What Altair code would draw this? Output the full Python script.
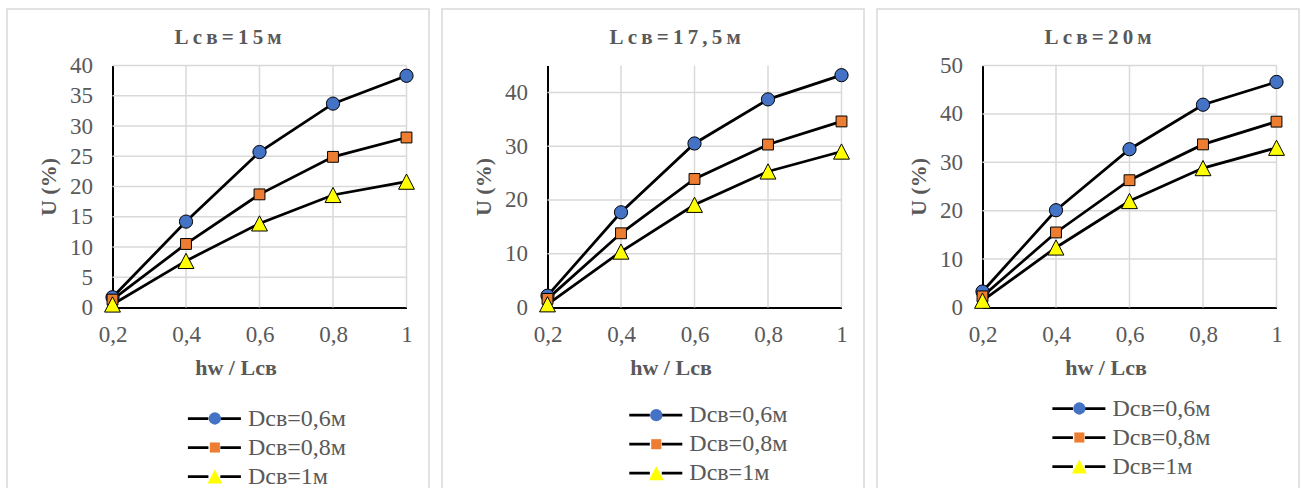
import altair as alt
import pandas as pd

# ---------------- data ----------------
X_VALUES = [0.2, 0.4, 0.6, 0.8, 1.0]
SERIES = ["Dсв=0,6м", "Dсв=0,8м", "Dсв=1м"]
TITLES = ["Lсв=15м", "Lсв=17,5м", "Lсв=20м"]
X_TITLE = "hw / Lсв"
Y_TITLE = "U (%)"

P1_D06 = [1.7, 14.2, 25.7, 33.7, 38.3]
P1_D08 = [1.3, 10.5, 18.7, 24.9, 28.1]
P1_D10 = [0.5, 7.7, 13.9, 18.6, 20.8]

P2_D06 = [2.2, 17.7, 30.5, 38.7, 43.2]
P2_D08 = [1.6, 13.8, 23.9, 30.3, 34.6]
P2_D10 = [0.6, 10.4, 19.1, 25.3, 29.0]

P3_D06 = [3.3, 20.1, 32.7, 41.9, 46.6]
P3_D08 = [2.3, 15.5, 26.3, 33.7, 38.4]
P3_D10 = [1.4, 12.4, 22.0, 28.8, 33.0]

Y_MAX = [40, 45, 50]
Y_TICKS = [[0, 5, 10, 15, 20, 25, 30, 35, 40],
           [0, 10, 20, 30, 40],
           [0, 10, 20, 30, 40, 50]]

# ---------------- style ----------------
SERIF = "'Liberation Serif', 'Times New Roman', 'DejaVu Serif', serif"
GRAY = "#595959"
GRID = "#d9d9d9"
FILL_COLORS = ["#4472C4", "#ED7D31", "#FFFF00"]
SHAPES = ["circle",
          "M-0.82,-0.82H0.82V0.82H-0.82Z",
          "M0,-1.15L1.2,1.15L-1.2,1.15Z"]

PW, PH = 422, 481
XR = [105.5, 399.5]
YR = [298.5, 56.5]
# legend placement per panel: (marker centre x, first row centre y)
LEG = [(209, 409.5), (215.4, 406.2), (203.5, 399.5)]


def panel(i, series_vals):
    rows = []
    for name, vals in zip(SERIES, series_vals):
        for x, y in zip(X_VALUES, vals):
            rows.append({"x": x, "y": y, "s": name, "sl": name})
    df = pd.DataFrame(rows)

    xs = alt.Scale(domain=[0.2, 1.0], range=XR, nice=False, zero=False)
    ys = alt.Scale(domain=[0, Y_MAX[i]], range=YR, nice=False, zero=True)

    x_enc = alt.X(
        "x:Q", scale=xs,
        axis=alt.Axis(
            values=X_VALUES, offset=-(PH - YR[0]), grid=False,
            domainColor="black", domainWidth=2, ticks=False,
            tickSize=0, labelPadding=16, labelFont=SERIF, labelFontSize=23,
            labelColor=GRAY, labelFlush=False, labelOverlap=False,
            labelExpr="replace(format(datum.value, '.1~f'), '.', ',')",
            title=X_TITLE, titleFont=SERIF, titleFontSize=22,
            titleFontWeight="bold", titleColor=GRAY, titleX=228.5,
            titleY=60.3, titleBaseline="middle", titleAlign="center",
        ),
    )
    y_enc = alt.Y(
        "y:Q", scale=ys,
        axis=alt.Axis(
            values=Y_TICKS[i], offset=-XR[0], grid=False,
            domainColor="black", domainWidth=2, ticks=False,
            tickSize=0, labelPadding=20, labelFont=SERIF, labelFontSize=23,
            labelColor=GRAY, labelFlush=False, labelOverlap=False,
            title=Y_TITLE, titleFont=SERIF, titleFontSize=22,
            titleFontWeight="bold", titleColor=GRAY, titleX=41 - XR[0],
            titleY=(YR[0] + YR[1]) / 2, titleBaseline="middle",
            titleAlign="center", titleAngle=270,
        ),
    )

    # grid lines drawn from the tick values through the same scales
    gx = pd.DataFrame({"x": X_VALUES[1:], "y": 0, "y2": Y_MAX[i]})
    gy = pd.DataFrame({"y": Y_TICKS[i][1:], "x": 0.2, "x2": 1.0})
    vgrid = alt.Chart(gx).mark_rule(color=GRID, strokeWidth=1.5).encode(
        x=x_enc, y=y_enc, y2="y2:Q",
    )
    hgrid = alt.Chart(gy).mark_rule(color=GRID, strokeWidth=1.5).encode(
        x=x_enc, y=y_enc, x2="x2:Q",
    )

    mx, my = LEG[i]
    line_size = 175.6
    line_legend = alt.Legend(
        title=None, orient="none", legendX=mx - 13.6, legendY=my - 12,
        padding=0, symbolType="M-4,0H-0.9M0.9,0H4", symbolSize=line_size,
        symbolStrokeWidth=2.75, symbolStrokeColor="black",
        symbolFillColor="transparent", labelFont=SERIF, labelFontSize=24,
        labelColor=GRAY, labelOffset=21.5, rowPadding=5,
        labelBaseline="middle",
    )
    mark_legend = alt.Legend(
        title=None, orient="none", legendX=mx - 13.15, legendY=my - 12,
        padding=0, symbolSize=151, symbolStrokeWidth=1,
        symbolStrokeColor="black", symbolOpacity=1, labelFont=SERIF,
        labelFontSize=24, labelColor=GRAY, labelOpacity=0,
        labelOffset=21.5, rowPadding=5, labelBaseline="middle",
    )

    base = alt.Chart(df).encode(x=x_enc, y=y_enc)
    lines = base.mark_line(strokeWidth=2.75).encode(
        color=alt.Color("sl:N", sort=SERIES,
                        scale=alt.Scale(domain=SERIES, range=["black"] * 3),
                        legend=line_legend),
    )
    points = base.mark_point(filled=True, stroke="black", strokeWidth=1,
                             size=175, opacity=1).encode(
        shape=alt.Shape("s:N", sort=SERIES,
                        scale=alt.Scale(domain=SERIES, range=SHAPES),
                        legend=mark_legend),
        fill=alt.Fill("s:N", sort=SERIES,
                      scale=alt.Scale(domain=SERIES, range=FILL_COLORS),
                      legend=mark_legend),
    )
    spaced = "\u2009".join(TITLES[i])
    return alt.layer(vgrid, hgrid, lines, points).resolve_scale(
        color="independent", shape="independent", fill="independent"
    ).properties(
        width=PW, height=PH,
        title=alt.TitleParams(
            text=spaced, anchor="start", dx=167.5, dy=50, offset=0,
            baseline="middle", font=SERIF, fontSize=21, fontWeight="bold",
            color=GRAY, frame="group",
        ),
    )


p1 = panel(0, [P1_D06, P1_D08, P1_D10])
p2 = panel(1, [P2_D06, P2_D08, P2_D10])
p3 = panel(2, [P3_D06, P3_D08, P3_D10])

chart = alt.hconcat(p1, p2, p3, spacing=11).resolve_scale(
    x="independent", y="independent", color="independent",
    shape="independent", fill="independent",
).properties(
    padding={"left": 6, "top": 8, "right": 0, "bottom": 0},
    background="white",
).configure_view(stroke=GRID, strokeWidth=1.5)

chart.save("out.html", embed_options={"renderer": "svg", "actions": False})
